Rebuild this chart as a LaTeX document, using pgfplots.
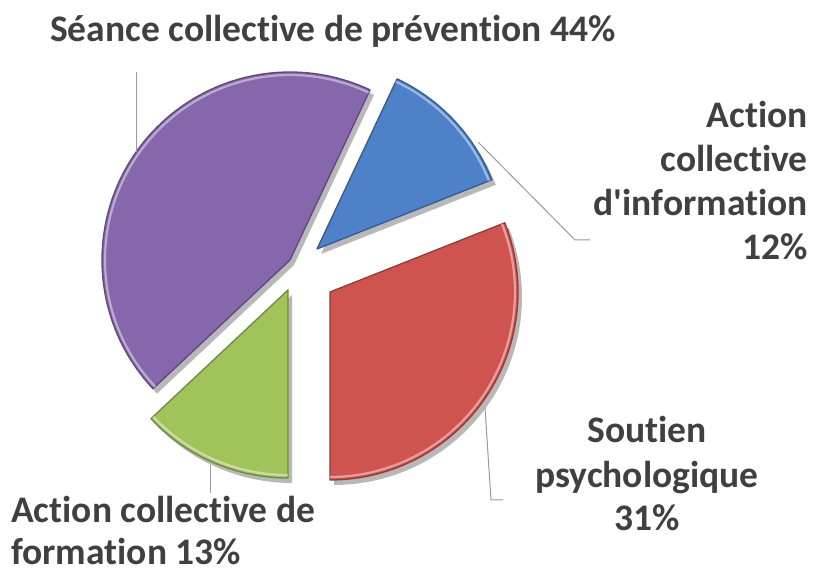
\documentclass[border=0pt]{standalone}
\usepackage{pgfplots}
\pgfplotsset{compat=1.18}
\usepackage{pgfplotstable}
\usetikzlibrary{shadows}
\usepackage{fontspec}
\setmainfont{Carlito}[Ligatures={NoCommon}]

\definecolor{cBlue}{HTML}{4F81C8}
\definecolor{cRed}{HTML}{CF5450}
\definecolor{cGreen}{HTML}{A0C35A}
\definecolor{cPurple}{HTML}{8667AC}
\definecolor{cText}{HTML}{404040}
\definecolor{cLine}{HTML}{9A9A9A}

% share of each activity (%), clockwise from the top
\pgfplotstableread{
name pct
info 12
soutien 31
formation 13
seance 44
}\piedata

\newcommand{\slice}[5]{%
  \fill[#5, drop shadow={shadow xshift=4bp, shadow yshift=-5bp, opacity=0.28, fill=black}]
    (axis cs:#1,#2) -- ++(#3:188bp) arc[start angle=#3, end angle=#4, radius=188bp] -- cycle;
  \draw[#5!70!black, line width=1.3bp, line join=round]
    (axis cs:#1,#2) -- ++(#3:188bp) arc[start angle=#3, end angle=#4, radius=188bp] -- cycle;
  \draw[white, opacity=0.45, line width=2.2bp]
    (axis cs:#1,#2) ++(#3:185bp) arc[start angle=#3, end angle=#4, radius=185bp];
}

\begin{document}
\begin{tikzpicture}
\pgfplotstablegetelem{0}{pct}\of\piedata\pgfmathsetmacro\pa{\pgfplotsretval}
\pgfplotstablegetelem{1}{pct}\of\piedata\pgfmathsetmacro\pb{\pgfplotsretval}
\pgfplotstablegetelem{2}{pct}\of\piedata\pgfmathsetmacro\pc{\pgfplotsretval}
\pgfplotstablegetelem{3}{pct}\of\piedata\pgfmathsetmacro\pd{\pgfplotsretval}
\pgfmathsetmacro\angA{64.8}
\pgfmathsetmacro\angB{\angA-3.6*\pa}
\pgfmathsetmacro\angC{\angB-3.6*\pb}
\pgfmathsetmacro\angD{\angC-3.6*\pc}
\pgfmathsetmacro\angE{\angD-3.6*\pd}
\begin{axis}[
  name=ax,
  width=817bp, height=572bp, scale only axis,
  xmin=0, xmax=817, ymin=0, ymax=572,
  hide axis, clip=false,
]
\addplot[draw=none] coordinates {(0,0) (817,572)};
% slices
\slice{317}{323}{\angA}{\angB}{cBlue}
\slice{330}{280}{\angB}{\angC}{cRed}
\slice{288}{282}{\angC}{\angD}{cGreen}
\slice{290}{312}{\angD}{\angE}{cPurple}
% leader lines
\draw[cLine, line width=1bp] (axis cs:136,500) -- (axis cs:136,420);
\draw[cLine, line width=1bp] (axis cs:478,430) -- (axis cs:575,332) -- (axis cs:590,332);
\draw[cLine, line width=1bp] (axis cs:485,164) -- (axis cs:491,72) -- (axis cs:503,72);
\draw[cLine, line width=1bp] (axis cs:210,107) -- (axis cs:210,79);
% labels
\begin{scope}[every node/.style={font=\fontsize{37.5bp}{45bp}\selectfont\bfseries, text=cText, inner sep=0pt}]
\node[anchor=base] at (axis cs:333,530) {Séance collective de prévention 44\%};
\node[anchor=base east] at (axis cs:808,444) {Action};
\node[anchor=base east] at (axis cs:808,400) {collective};
\node[anchor=base east] at (axis cs:808,356) {d\textquotesingle information};
\node[anchor=base east] at (axis cs:808,312) {12\%};
\node[anchor=base] at (axis cs:647,129) {Soutien};
\node[anchor=base] at (axis cs:647,84) {psychologique};
\node[anchor=base] at (axis cs:647,41) {31\%};
\node[anchor=base west] at (axis cs:11,49) {Action collective de};
\node[anchor=base west] at (axis cs:11,8) {formation 13\%};
\end{scope}
\end{axis}
\pgfresetboundingbox
\path (ax.south west) rectangle (ax.north east);
\end{tikzpicture}
\end{document}
